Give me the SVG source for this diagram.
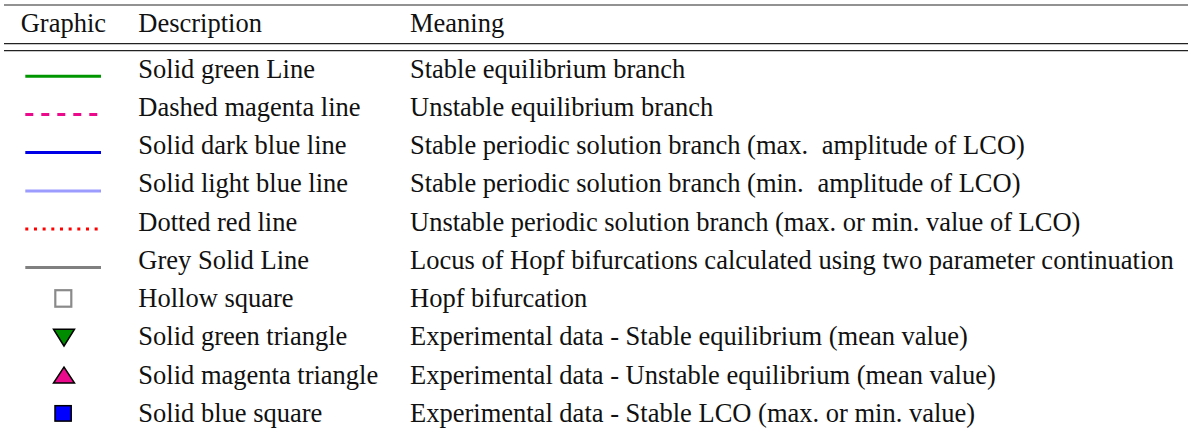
<svg xmlns="http://www.w3.org/2000/svg" width="1188" height="432" viewBox="0 0 1188 432">
<style>
text{font-family:"Liberation Serif","Times New Roman",serif;font-size:26.5px;fill:#111}
.rule{stroke:#222;stroke-width:1.2}
.key{stroke-width:3;fill:none}
</style>
<rect width="1188" height="432" fill="#fff"/>
<g id="rules">
<line x1="4" y1="5" x2="1188" y2="5" stroke="#6e6e6e" stroke-width="1.6"/>
<line class="rule" x1="4" y1="43.7" x2="1188" y2="43.7"/>
<line class="rule" x1="4" y1="50.7" x2="1188" y2="50.7"/>
</g>
<g id="header">
<text x="20.7" y="31.5">Graphic</text>
<text x="138.3" y="31.5">Description</text>
<text x="410" y="31.5">Meaning</text>
</g>
<g id="row1">
<line class="key" x1="25.3" y1="76.3" x2="101" y2="76.3" stroke="#009600"/>
<text x="138.3" y="77.7">Solid green Line</text>
<text x="410" y="77.7">Stable equilibrium branch</text>
</g>
<g id="row2">
<line class="key" x1="25.3" y1="114.4" x2="98" y2="114.4" stroke="#ec0a8c" stroke-dasharray="8 8"/>
<text x="138.3" y="115.9">Dashed magenta line</text>
<text x="410" y="115.9">Unstable equilibrium branch</text>
</g>
<g id="row3">
<line class="key" x1="25.3" y1="152.6" x2="101" y2="152.6" stroke="#0000e6"/>
<text x="138.3" y="154.1">Solid dark blue line</text>
<text x="410" y="154.1">Stable periodic solution branch (max. <tspan dx="7">amplitude of LCO)</tspan></text>
</g>
<g id="row4">
<line class="key" x1="25.3" y1="190.9" x2="101" y2="190.9" stroke="#9c9cff"/>
<text x="138.3" y="192.4">Solid light blue line</text>
<text x="410" y="192.4">Stable periodic solution branch (min. <tspan dx="7">amplitude of LCO)</tspan></text>
</g>
<g id="row5">
<line class="key" x1="25.3" y1="229.1" x2="99" y2="229.1" stroke="#ff0000" stroke-dasharray="3 5.67"/>
<text x="138.3" y="230.6">Dotted red line</text>
<text x="410" y="230.6">Unstable periodic solution branch (max. or min. value of LCO)</text>
</g>
<g id="row6">
<line class="key" x1="25.3" y1="267.4" x2="101" y2="267.4" stroke="#808080"/>
<text x="138.3" y="268.8">Grey Solid Line</text>
<text x="410" y="268.8">Locus of Hopf bifurcations calculated using two parameter continuation</text>
</g>
<g id="row7">
<rect x="55.3" y="290.2" width="16" height="16.5" fill="#fff" stroke="#8a8a8a" stroke-width="2.2"/>
<text x="138.3" y="307">Hollow square</text>
<text x="410" y="307">Hopf bifurcation</text>
</g>
<g id="row8">
<polygon points="53.5,329.2 74.5,329.2 64,346" fill="#008c00" stroke="#000" stroke-width="1.5" stroke-linejoin="miter"/>
<text x="138.3" y="345.3">Solid green triangle</text>
<text x="410" y="345.3">Experimental data - Stable equilibrium (mean value)</text>
</g>
<g id="row9">
<polygon points="53.5,383 74.5,383 64,367" fill="#ec0a8c" stroke="#000" stroke-width="1.5"/>
<text x="138.3" y="383.5">Solid magenta triangle</text>
<text x="410" y="383.5">Experimental data - Unstable equilibrium (mean value)</text>
</g>
<g id="row10">
<rect x="55" y="405.7" width="16.2" height="15.4" fill="#0000ff" stroke="#000" stroke-width="1.5"/>
<text x="138.3" y="421.7">Solid blue square</text>
<text x="410" y="421.7">Experimental data - Stable LCO (max. or min. value)</text>
</g>
</svg>
